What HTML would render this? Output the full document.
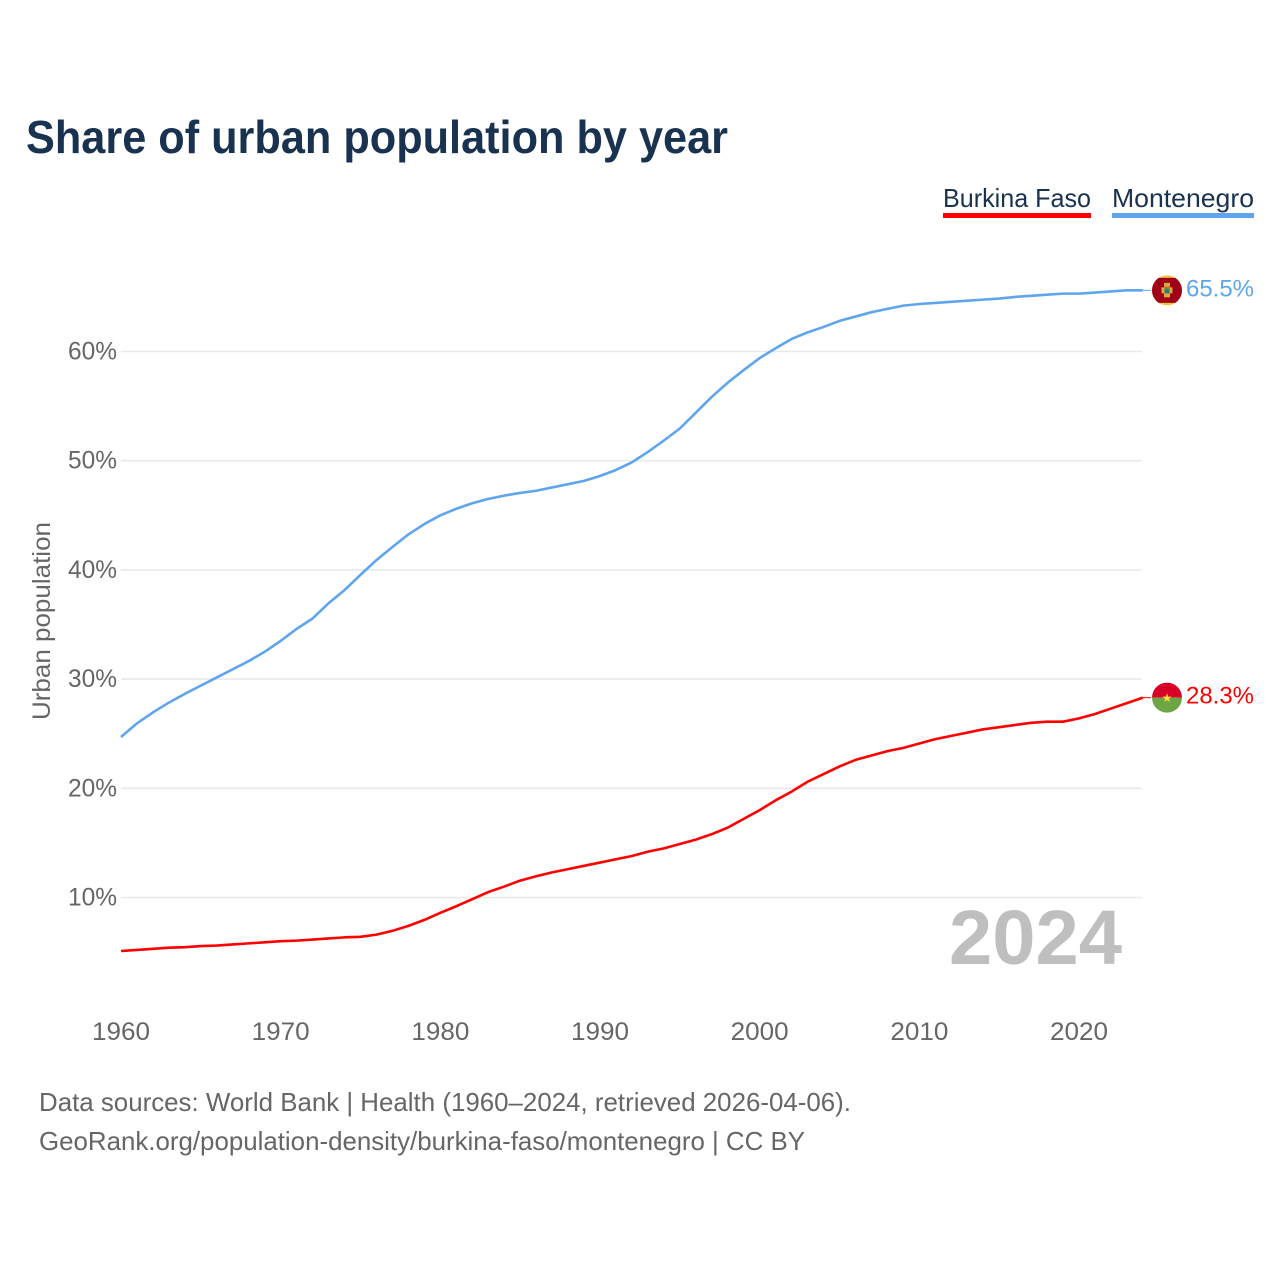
<!DOCTYPE html>
<html lang="en">
<head>
<meta charset="utf-8">
<title>Share of urban population by year</title>
<style>
html,body{margin:0;padding:0;background:#fff;}
svg{display:block;font-family:"Liberation Sans",sans-serif;}
</style>
</head>
<body>
<svg id="chart" width="1280" height="1280" viewBox="0 0 1280 1280" xmlns="http://www.w3.org/2000/svg">
  <defs>
    <clipPath id="flag-clip"><circle cx="0" cy="0" r="15"/></clipPath>
  </defs>
  <rect width="1280" height="1280" fill="#ffffff"/>
  <text x="26" y="153" font-size="46" font-weight="700" fill="#18324f" textLength="702" lengthAdjust="spacingAndGlyphs">Share of urban population by year</text>
  <g id="grid"></g>
  <g id="yticks"></g>
  <g id="xticks"></g>
  <text transform="translate(50,621) rotate(-90)" text-anchor="middle" font-size="25" fill="#666666" textLength="198" lengthAdjust="spacingAndGlyphs">Urban population</text>
  <text x="1122" y="964" text-anchor="end" font-size="77" font-weight="700" fill="#bfbfbf" textLength="173" lengthAdjust="spacingAndGlyphs">2024</text>
  <g id="series"></g>
  <g id="flag-mne"></g>
  <g id="flag-bfa"></g>
  <g>
    <text x="943" y="207" font-size="26" fill="#18324f" textLength="148" lengthAdjust="spacingAndGlyphs">Burkina Faso</text>
    <rect x="943" y="213" width="148" height="5" fill="#ff0000"/>
  </g>
  <g>
    <text x="1112" y="207" font-size="26" fill="#18324f" textLength="142" lengthAdjust="spacingAndGlyphs">Montenegro</text>
    <rect x="1112" y="213" width="142" height="5" fill="#5fa5ee"/>
  </g>
  <text x="39" y="1111" font-size="26" fill="#666666" textLength="812" lengthAdjust="spacingAndGlyphs">Data sources: World Bank | Health (1960–2024, retrieved 2026-04-06).</text>
  <text x="39" y="1150" font-size="26" fill="#666666" textLength="766" lengthAdjust="spacingAndGlyphs">GeoRank.org/population-density/burkina-faso/montenegro | CC BY</text>
</svg>
<script>
var startYear = 1960;
var xTickYears = [1960, 1970, 1980, 1990, 2000, 2010, 2020];
var yTickValues = [10, 20, 30, 40, 50, 60];
var montenegroValues = [24.7,25.95,26.95,27.85,28.65,29.4,30.15,30.9,31.65,32.5,33.5,34.6,35.55,36.95,38.15,39.55,40.9,42.1,43.25,44.2,45.0,45.6,46.1,46.5,46.8,47.05,47.25,47.55,47.85,48.15,48.6,49.15,49.85,50.8,51.85,52.95,54.4,55.85,57.15,58.3,59.4,60.3,61.15,61.75,62.25,62.8,63.2,63.6,63.9,64.2,64.35,64.45,64.55,64.65,64.75,64.85,65.0,65.1,65.2,65.3,65.3,65.4,65.5,65.6,65.6];
var burkinaFasoValues = [5.1,5.2,5.3,5.4,5.45,5.55,5.6,5.7,5.8,5.9,6.0,6.05,6.15,6.25,6.35,6.4,6.6,6.95,7.4,7.95,8.6,9.2,9.85,10.5,11.0,11.55,11.95,12.3,12.6,12.9,13.2,13.5,13.8,14.2,14.5,14.9,15.3,15.8,16.4,17.2,18.0,18.9,19.7,20.6,21.3,22.0,22.6,23.0,23.4,23.7,24.1,24.5,24.8,25.1,25.4,25.6,25.8,26.0,26.1,26.1,26.4,26.8,27.3,27.8,28.3];
var montenegroLabel = "65.5%";
var burkinaFasoLabel = "28.3%";

var NS = "http://www.w3.org/2000/svg";
function xScale(year) { return 121 + (year - 1960) * 15.967; }
function yScale(value) { return 351.5 + (60 - value) * 10.92; }
function make(tag, attrs, parent) {
  var el = document.createElementNS(NS, tag);
  for (var k in attrs) el.setAttribute(k, attrs[k]);
  parent.appendChild(el);
  return el;
}
var grid = document.getElementById("grid");
var yticks = document.getElementById("yticks");
var xticks = document.getElementById("xticks");
var series = document.getElementById("series");

yTickValues.forEach(function (v) {
  var line = make("line", {x1: 121, x2: 1142, y1: yScale(v), y2: yScale(v), stroke: "#e9e9e9", "stroke-width": 1.6}, grid);
  
  
  var label = make("text", {x: 117, y: yScale(v) + 8, "text-anchor": "end", "font-size": 25, fill: "#666666", textLength: 49, lengthAdjust: "spacingAndGlyphs"}, yticks);
  label.textContent = v + "%";
  
  
});
xTickYears.forEach(function (y) {
  var label = make("text", {x: xScale(y), y: 1040, "text-anchor": "middle", "font-size": 25, fill: "#666666", textLength: 58, lengthAdjust: "spacingAndGlyphs"}, xticks);
  label.textContent = y;
  
  
});
function pathFor(values) {
  return values.map(function (v, i) {
    return (i ? "L" : "M") + xScale(startYear + i).toFixed(2) + " " + yScale(v).toFixed(2);
  }).join("");
}
function lastY(values) { return yScale(values[values.length - 1]); }
function lastX(values) { return xScale(startYear + values.length - 1); }

var blueLine = make("path", {d: pathFor(montenegroValues), fill: "none", stroke: "#5fa5ee", "stroke-width": 2.6, "stroke-linejoin": "round"}, series);


var redLine = make("path", {d: pathFor(burkinaFasoValues), fill: "none", stroke: "#ff0000", "stroke-width": 2.6, "stroke-linejoin": "round"}, series);



var flagX = 1167;
var blueEndY = lastY(montenegroValues);
var redEndY = lastY(burkinaFasoValues);
var blueEndX = lastX(montenegroValues);
var redEndX = lastX(burkinaFasoValues);

var blueTick = make("line", {x1: blueEndX, x2: blueEndX + 8, y1: blueEndY, y2: blueEndY, stroke: "#5fa5ee", "stroke-width": 1}, series);


var redTick = make("line", {x1: redEndX, x2: redEndX + 8, y1: redEndY, y2: redEndY, stroke: "#ff0000", "stroke-width": 1}, series);



/* Montenegro flag */
var mne = make("g", {transform: "translate(" + flagX + "," + blueEndY + ")", "clip-path": "url(#flag-clip)"}, document.getElementById("flag-mne"));
make("rect", {x: -15, y: -15, width: 30, height: 30, fill: "#f2c53d"}, mne);
make("rect", {x: -15, y: -12.5, width: 30, height: 25, fill: "#a00018"}, mne);
make("rect", {x: -5.5, y: -3, width: 11, height: 6, fill: "#d9ad3c"}, mne);
make("rect", {x: -3, y: -7.5, width: 6, height: 4, fill: "#d9ad3c"}, mne);
make("rect", {x: -3, y: 3, width: 6, height: 4, fill: "#d9ad3c"}, mne);
make("rect", {x: -2.5, y: -2, width: 5, height: 5, fill: "#2f7d6b"}, mne);
var mneText = make("text", {x: 1254, y: blueEndY + 6, "text-anchor": "end", "font-size": 24.5, fill: "#5fa5ee", textLength: 68, lengthAdjust: "spacingAndGlyphs"}, series);
mneText.textContent = montenegroLabel;



/* Burkina Faso flag */
var bfa = make("g", {transform: "translate(" + flagX + "," + redEndY + ")", "clip-path": "url(#flag-clip)"}, document.getElementById("flag-bfa"));
make("rect", {x: -15, y: -15, width: 30, height: 15, fill: "#d80027"}, bfa);
make("rect", {x: -15, y: 0, width: 30, height: 15, fill: "#6da544"}, bfa);
var bfaStar = make("text", {x: 0, y: 4.5, "text-anchor": "middle", "font-size": 12, fill: "#ffda44", "font-family": "DejaVu Sans, sans-serif"}, bfa);
bfaStar.textContent = "★";
var bfaText = make("text", {x: 1254, y: redEndY + 6, "text-anchor": "end", "font-size": 24.5, fill: "#ff0000", textLength: 68, lengthAdjust: "spacingAndGlyphs"}, series);
bfaText.textContent = burkinaFasoLabel;


</script>
</body>
</html>
